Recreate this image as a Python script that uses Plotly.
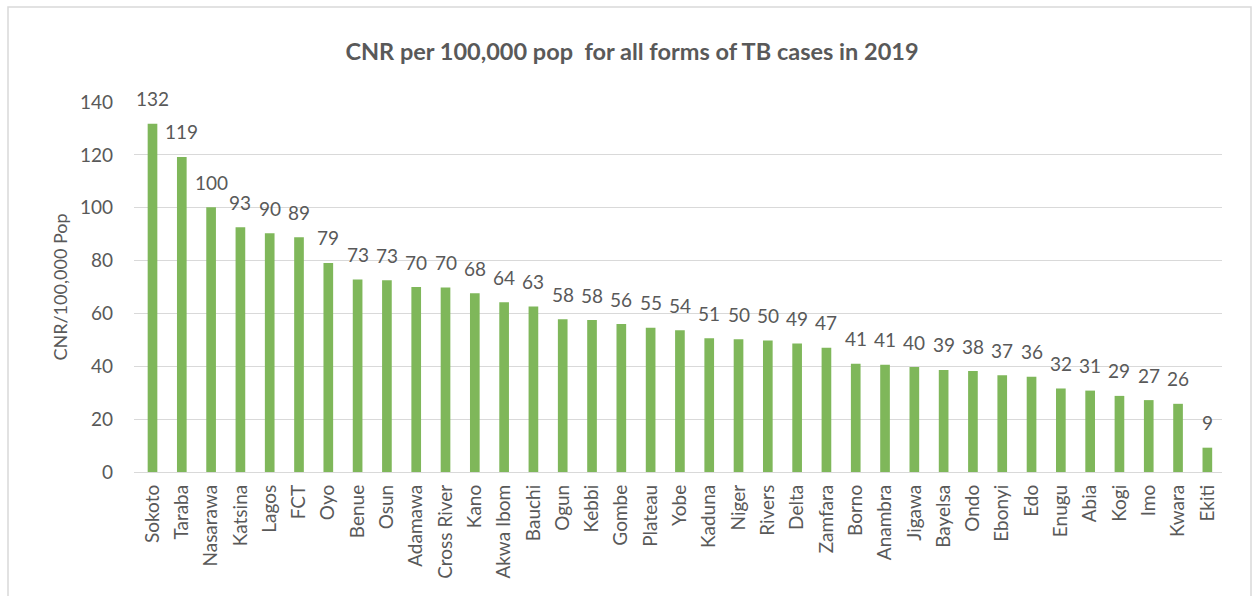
import plotly.graph_objects as go

states = ["Sokoto", "Taraba", "Nasarawa", "Katsina", "Lagos", "FCT", "Oyo", "Benue", "Osun",
          "Adamawa", "Cross River", "Kano", "Akwa Ibom", "Bauchi", "Ogun", "Kebbi", "Gombe",
          "Plateau", "Yobe", "Kaduna", "Niger", "Rivers", "Delta", "Zamfara", "Borno", "Anambra",
          "Jigawa", "Bayelsa", "Ondo", "Ebonyi", "Edo", "Enugu", "Abia", "Kogi", "Imo", "Kwara", "Ekiti"]
cnr = [131.8, 119.2, 100.2, 92.6, 90.3, 88.8, 79.1, 72.8, 72.6,
       70.0, 69.8, 67.6, 64.2, 62.6, 57.8, 57.5, 56.0,
       54.6, 53.6, 50.6, 50.2, 49.8, 48.6, 47.0, 41.0, 40.6,
       39.7, 38.6, 38.2, 36.6, 36.0, 31.6, 30.8, 28.8, 27.2, 25.8, 9.2]
labels = [f"{round(v)}" for v in cnr]

TXT = "#595959"
FONT = "Lato"

fig = go.Figure()
fig.add_trace(go.Bar(x=states, y=cnr, marker=dict(color="#7fb75a", line=dict(width=0)),
                     hoverinfo="x+y"))

for s, v, t in zip(states, cnr, labels):
    fig.add_annotation(x=s, y=v, text=t, showarrow=False, yanchor="middle", yshift=25,
                       font=dict(family=FONT, size=19, color=TXT))

L, R, T, B = 134, 30, 102, 124
W, H = 1252 - L - R, 596 - T - B
fig.add_shape(type="rect", xref="paper", yref="paper",
              x0=(8 - L) / W, x1=(1251 - L) / W, y0=(472 - 600) / H, y1=(472 - 7) / H,
              line=dict(color="#d9d9d9", width=1.5), fillcolor="rgba(0,0,0,0)", layer="below")

fig.update_layout(
    width=1252, height=596,
    margin=dict(l=L, r=R, t=T, b=B),
    paper_bgcolor="white", plot_bgcolor="white",
    bargap=0.67,
    showlegend=False,
    title=dict(text="<b>CNR per 100,000 pop  for all forms of TB cases in 2019</b>",
               x=(632) / 1252, xanchor="center", y=1 - 52 / 596, yanchor="middle",
               font=dict(family=FONT, size=23.5, color=TXT)),
    font=dict(family=FONT, color=TXT),
)
fig.update_yaxes(range=[0, 140], dtick=20, showgrid=True, gridcolor="#d9d9d9", gridwidth=1.3,
                 zeroline=True, zerolinecolor="#d9d9d9", zerolinewidth=1.3,
                 showline=False, ticks="", ticklabelstandoff=20,
                 tickfont=dict(family=FONT, size=19, color=TXT),
                 title=dict(text="CNR/100,000 Pop", standoff=7,
                            font=dict(family=FONT, size=18, color=TXT)))
fig.update_xaxes(tickangle=-90, showline=False, ticks="", showgrid=False,
                 ticklabelstandoff=8,
                 tickfont=dict(family=FONT, size=19, color=TXT))

fig.write_html("out.html")
